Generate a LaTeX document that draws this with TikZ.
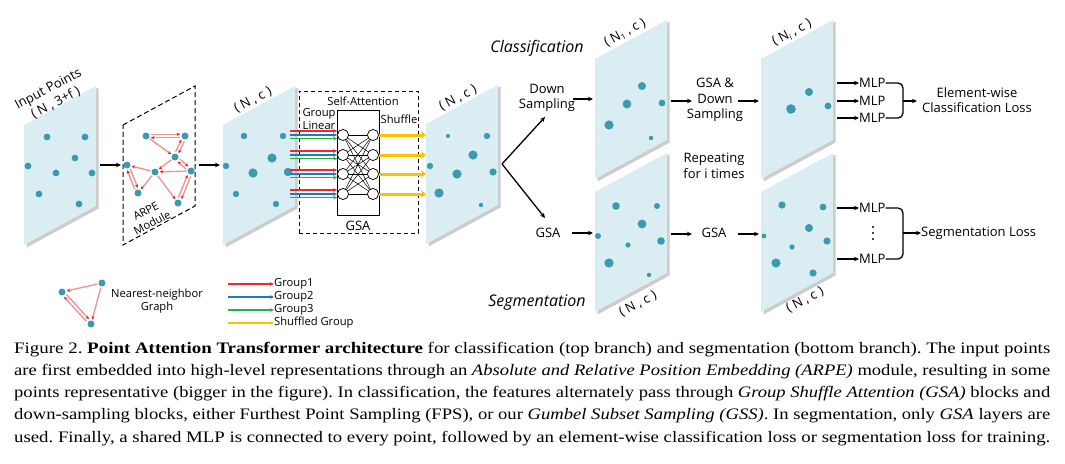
\documentclass[tikz,border=0pt]{standalone}
\usepackage{fontspec}
\usepackage{graphicx}
\setmainfont{Liberation Serif}
\newfontfamily\dfont{Open Sans}
\usetikzlibrary{arrows.meta,calc}
\definecolor{pfill}{HTML}{DAEDF2}
\definecolor{pdot}{HTML}{3C9AAE}
\definecolor{gred}{HTML}{F0262B}
\definecolor{gblue}{HTML}{1F77C8}
\definecolor{ggreen}{HTML}{1DB24A}
\definecolor{gyellow}{HTML}{FFC000}
\definecolor{arpered}{HTML}{EE9494}
\definecolor{arpetip}{HTML}{D42020}

\newcommand\featpanel[3][]{%
  \begin{scope}[shift={(#2,#3)}]
    \fill[gray!40] (2.5,1.5) -- (74.5,-37.5) -- (74.5,83.5) -- (2.5,122.5) -- cycle;
    \fill[pfill,#1] (0,0) -- (72,-39) -- (72,81) -- (0,120) -- cycle;
  \end{scope}}
\newcommand\dotat[3]{\fill[pdot] (#1,#2) circle (#3);}
\newcommand\dblarrow[2]{%
  \draw[arpe,shorten >=5pt,shorten <=5pt] ($(#1)!1.7pt!90:(#2)$) -- ($(#2)!1.7pt!-90:(#1)$);
  \draw[arpe,shorten >=5pt,shorten <=5pt] ($(#2)!1.7pt!90:(#1)$) -- ($(#1)!1.7pt!-90:(#2)$);}
\newcommand\capfit[1]{\resizebox{1036pt}{\height}{\frenchspacing #1}}

\begin{document}
\begin{tikzpicture}[x=1pt,y=-1pt,
  lbl/.style={font=\dfont\fontsize{13}{15.6}\selectfont, inner sep=0, align=center},
  slbl/.style={font=\dfont\fontsize{11.2}{13.4}\selectfont, inner sep=0, align=center},
  ttl/.style={font=\dfont\itshape\fontsize{16}{19}\selectfont, inner sep=0},
  adot/.style={circle, fill=pdot, inner sep=0, minimum size=7pt},
  arpe/.style={draw=arpered, line width=1.35pt, shorten >=1pt, shorten <=1pt,
     -{Stealth[length=3.5pt,width=3.2pt,color=arpetip]}},
  arr/.style={line width=1.3pt, -{Stealth[length=5pt,width=4.5pt]}},
  neuron/.style={circle, draw, line width=0.6pt, fill=white, inner sep=0, minimum size=11pt},
  garr/.style={line width=1.4pt, -{Stealth[length=4pt,width=3.6pt]}},
  yarr/.style={draw=gyellow, line width=3pt, -{Stealth[length=5pt,width=7.5pt]}},
  capline/.style={anchor=base west, inner sep=0, font=\fontsize{16}{19}\selectfont}
]
\useasboundingbox (0,0) rectangle (1065,463);
\fill[white] (0,0) rectangle (1065,463);

% ---------- panels ----------
\featpanel{24}{125}
\featpanel{223}{125}
\featpanel{426}{124}
\featpanel{595}{59}
\featpanel{761}{59}
\featpanel{595}{192}
\featpanel{761}{192}
\draw[line width=1pt, dash pattern=on 5pt off 3pt] (123,125) -- (195,86) -- (195,206) -- (123,245) -- cycle;

% ---------- dots ----------
\dotat{47}{137}{3.4}\dotat{85}{137}{3.4}\dotat{75}{158}{3.4}\dotat{28}{166}{3.4}
\dotat{56}{173}{3.4}\dotat{92}{173}{3.4}\dotat{39}{194}{3.4}\dotat{79}{204}{3.4}

\dotat{244}{136}{3.2}\dotat{283}{136}{3.2}\dotat{272}{158}{4.6}\dotat{226}{166}{3.2}
\dotat{253}{173}{4.6}\dotat{288}{172}{4.2}\dotat{236}{194}{3.2}\dotat{276}{204}{3.2}

\dotat{448}{136}{2}\dotat{487}{136}{3.2}\dotat{473}{155}{4.6}\dotat{430}{166}{3.2}
\dotat{457}{174}{4.6}\dotat{493}{172}{3.6}\dotat{439}{193}{4.6}\dotat{481}{205}{2.2}

\dotat{642}{86}{4}\dotat{627}{104}{4.4}\dotat{662}{103}{3.4}\dotat{609}{125}{4.6}\dotat{651}{138}{2.2}

\dotat{809}{92}{4}\dotat{791}{109}{4.8}\dotat{828}{106}{3.4}

\dotat{616}{206}{3.8}\dotat{657}{206}{3}\dotat{642}{224}{4.4}\dotat{598}{236}{3}
\dotat{628}{245}{2.6}\dotat{661}{241}{3.8}\dotat{609}{263}{4.6}\dotat{649}{275}{2.2}

\dotat{782}{205}{3.6}\dotat{823}{207}{3.4}\dotat{809}{228}{4}\dotat{764}{236}{2.4}
\dotat{792}{247}{2.6}\dotat{827}{241}{3.6}\dotat{776}{263}{4.6}\dotat{813}{273}{3.6}

% ---------- panel labels ----------
\node[lbl, rotate=28] (inlbl) at (52,96) {Input Points\\( N , 3+f )};
\node[lbl, rotate=28] (p2lbl) at (253,100) {( N , c )};
\node[lbl, rotate=28] (p3lbl) at (458,98) {( N , c )};
\node[lbl, rotate=28] (p4lbl) at (625,33) {( N\raisebox{-2.5pt}{\fontsize{8}{9}\selectfont 1} , c )};
\node[lbl, rotate=28] (p5lbl) at (792,33) {( N\raisebox{-2.5pt}{\fontsize{8}{9}\selectfont i} , c )};
\node[lbl, rotate=28] (p6lbl) at (638,304) {( N , c )};
\node[lbl, rotate=28] (p7lbl) at (805,300) {( N , c )};

% ---------- ARPE ----------
\node[adot] (a1) at (146,136) {};
\node[adot] (a2) at (185,136) {};
\node[adot] (a3) at (175,157) {};
\node[adot] (a4) at (127,165) {};
\node[adot] (a5) at (155,172) {};
\node[adot] (a6) at (191,171) {};
\node[adot] (a7) at (138,193) {};
\node[adot] (a8) at (178,203) {};
\dblarrow{a1}{a2}
\dblarrow{a2}{a3}
\dblarrow{a3}{a6}
\dblarrow{a4}{a7}
\dblarrow{a6}{a8}
\draw[arpe] (a1) -- (a3);
\draw[arpe] (a3) -- (a5);
\draw[arpe] (a6) -- (a5);
\draw[arpe] (a5) -- (a4);
\draw[arpe] (a5) -- (a7);
\draw[arpe] (a5) -- (a8);
\node[slbl, rotate=28] (arpelbl) at (149,217) {ARPE\\Module};

% arrows between first panels
\coordinate (p1r) at (100,165);
\coordinate (arl) at (121,165);
\coordinate (arr) at (199,165);
\coordinate (p2l) at (220,165);
\draw[arr] (p1r) -- (arl);
\draw[arr] (arr) -- (p2l);

% ---------- GSA block ----------
\node[draw, line width=0.9pt, dash pattern=on 4pt off 3pt, minimum width=119pt, minimum height=142pt, inner sep=0] (gsabox) at (358.5,162) {};
\node[draw, line width=0.7pt, minimum width=42pt, minimum height=105pt, inner sep=0] (inner) at (358,162.5) {};
\node[slbl] (selfatt) at (363,101) {Self-Attention};
\node[slbl] (grplin) at (319,119) {Group\\Linear};
\node[slbl] (shuf) at (399,119) {Shuffle};
\node[lbl] (gsatxt) at (358,226) {GSA};
\foreach \i/\y in {1/135,2/155,3/174,4/194}{
  \node[neuron] (c\i) at (343,\y) {};
  \node[neuron] (d\i) at (373,\y) {};
}
\foreach \i in {1,...,4}{
  \foreach \j in {1,...,4}{
    \draw[line width=0.5pt] (c\i) -- (d\j);
  }
}
\foreach \i in {1,...,4}{
  \node[neuron] at (c\i) {};
  \node[neuron] at (d\i) {};
}
\coordinate (gstart) at (290,0);
\coordinate (p3l) at (426,0);
\foreach \i in {1,...,4}{
  \draw[garr, gred] ([yshift=4pt]c\i.west -| gstart) -- ([yshift=4pt]c\i.west);
  \draw[garr, gblue] (c\i.west -| gstart) -- (c\i.west);
  \draw[garr, ggreen] ([yshift=-3.6pt]c\i.west -| gstart) -- ([yshift=-3.6pt]c\i.west);
  \draw[yarr] (d\i.east) -- (d\i.east -| p3l);
}

% ---------- branches ----------
\node[ttl] (cls) at (537,48) {Classification};
\node[ttl] (seg) at (537,303) {Segmentation};
\node[lbl] (ds) at (547,98) {Down\\Sampling};
\node[lbl] (gsa1) at (548,233) {GSA};
\coordinate (v) at (502,164);
\coordinate (vup) at (545,117);
\coordinate (vdn) at (545,218);
\draw[line width=1.3pt, -{Stealth[length=5pt,width=4.5pt]}] (v) -- (vup);
\draw[line width=1.3pt, -{Stealth[length=5pt,width=4.5pt]}] (v) -- (vdn);
\coordinate (dsa) at (573,99);
\coordinate (p4l) at (593,99);
\draw[arr] (dsa) -- (p4l);
\coordinate (gsaa) at (572,233);
\coordinate (p6l) at (593,233);
\draw[arr] (gsaa) -- (p6l);

\node[lbl] (gsads) at (715,100) {GSA \&\\Down\\Sampling};
\coordinate (p4r) at (671,101);
\coordinate (gdl) at (692,101);
\coordinate (gdr) at (738,101);
\coordinate (p5l) at (759,101);
\draw[arr] (p4r) -- (gdl);
\draw[arr] (gdr) -- (p5l);
\node[lbl] (rep) at (714,166) {Repeating\\for i times};
\node[lbl] (gsa2) at (714,233) {GSA};
\coordinate (p6r) at (671,234);
\coordinate (g2l) at (692,234);
\coordinate (g2r) at (738,234);
\coordinate (p7l) at (759,234);
\draw[arr] (p6r) -- (g2l);
\draw[arr] (g2r) -- (p7l);

% ---------- MLP heads ----------
\foreach \n/\y in {1/83,2/101,3/118}{
  \node[lbl, anchor=west] (m\n) at (859,\y) {MLP};
  \draw[arr] (837,\y) -- (m\n.west);
}
\draw[line width=1.3pt, rounded corners=5pt] (m1.east) -- (903,83) -- (903,118) -- (m3.east);
\node[lbl] (clsloss) at (977,100) {Element-wise\\Classification Loss};
\coordinate (b1) at (903,101);
\coordinate (b1e) at (917,101);
\draw[arr] (b1) -- (b1e);

\foreach \n/\y in {4/208,5/259}{
  \node[lbl, anchor=west] (m\n) at (859,\y) {MLP};
  \draw[arr] (837,\y) -- (m\n.west);
}
\foreach \y in {227,233,239}{\fill (873,\y) circle (1.1);}
\draw[line width=1.3pt, rounded corners=5pt] (m4.east) -- (903,208) -- (903,259) -- (m5.east);
\node[lbl, anchor=west] (segloss) at (921,233) {Segmentation Loss};
\coordinate (b2) at (903,233);
\draw[arr] (b2) -- (segloss.west);

% ---------- legend ----------
\node[adot] (l1) at (62,292) {};
\node[adot] (l2) at (102,283) {};
\node[adot] (l3) at (91,324) {};
\draw[arpe] (l2) -- (l1);
\draw[arpe] (l2) -- (l3);
\dblarrow{l1}{l3}
\node[slbl] (nng) at (157,301) {Nearest-neighbor\\Graph};
\foreach \c/\y/\t in {gred/284/Group1, gblue/297/Group2, ggreen/310/Group3, gyellow/323/Shuffled Group}{
  \node[slbl, anchor=west] (leg\y) at (274,\y) {\t};
  \draw[garr, \c] (228,\y) -- (leg\y.west);
}

% ---------- caption ----------
\node[capline] (cap1) at (14,353) {\capfit{Figure 2. \textbf{Point Attention Transformer architecture} for classification (top branch) and segmentation (bottom branch). The input points}};
\node[capline] (cap2) at (14,375.3) {\capfit{are first embedded into high-level representations through an \textit{Absolute and Relative Position Embedding (ARPE)} module, resulting in some}};
\node[capline] (cap3) at (14,397.6) {\capfit{points representative (bigger in the figure). In classification, the features alternately pass through \textit{Group Shuffle Attention (GSA)} blocks and}};
\node[capline] (cap4) at (14,419.9) {\capfit{down-sampling blocks, either Furthest Point Sampling (FPS), or our \textit{Gumbel Subset Sampling (GSS)}. In segmentation, only \textit{GSA} layers are}};
\node[capline] (cap5) at (14,442.2) {\capfit{used. Finally, a shared MLP is connected to every point, followed by an element-wise classification loss or segmentation loss for training.}};
\end{tikzpicture}
\end{document}
